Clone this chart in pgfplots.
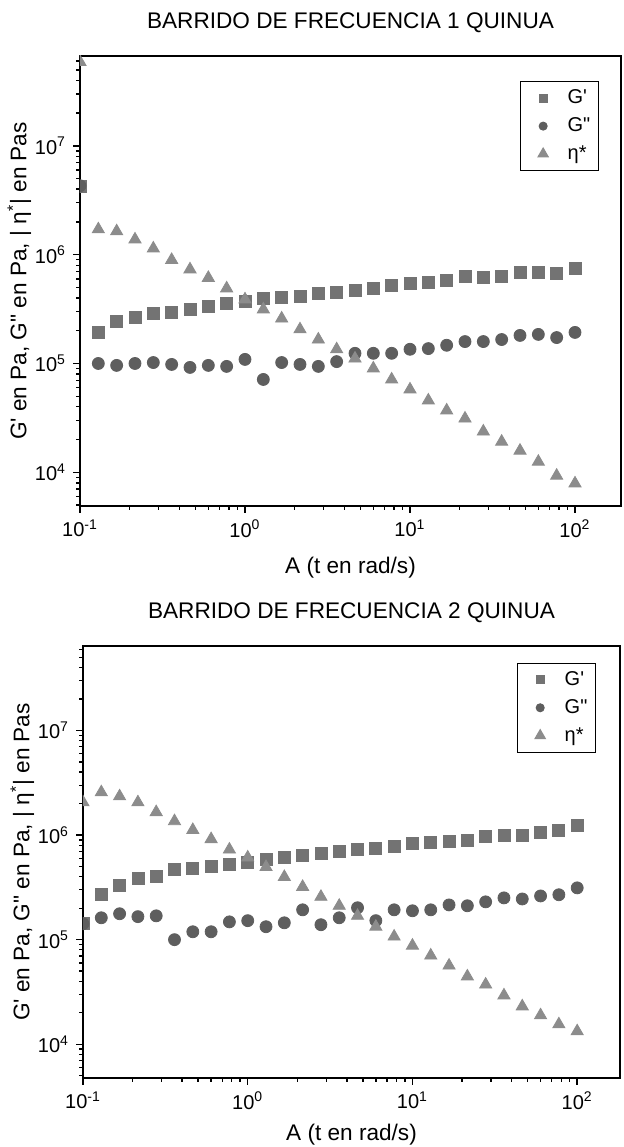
\documentclass[border=0pt]{standalone}
\usepackage{fontspec}
\setmainfont{Liberation Sans}[Ligatures=TeXOff]
\usepackage{pgfplots}
\usepackage{pgfplotstable}
\pgfplotsset{compat=1.18}

\definecolor{cGp}{HTML}{737373}
\definecolor{cGpp}{HTML}{5E5E5E}
\definecolor{cEta}{HTML}{8C8C8C}

% barrido 1: w (rad/s), G', G'', |eta*|
\pgfplotstableread{
w       Gp      Gpp     eta
0.1     4.2e6   4.3e6   5.9e7
0.12915 1.93e5  1.00e5  1.71e6
0.16681 2.43e5  9.6e4   1.64e6
0.21544 2.65e5  1.00e5  1.38e6
0.27826 2.88e5  1.02e5  1.14e6
0.35938 2.94e5  9.8e4   8.95e5
0.46416 3.14e5  9.2e4   7.33e5
0.59948 3.34e5  9.6e4   6.12e5
0.77426 3.56e5  9.4e4   4.90e5
1.0     3.72e5  1.09e5  3.88e5
1.2915  3.96e5  7.13e4  3.14e5
1.6681  4.05e5  1.02e5  2.59e5
2.1544  4.13e5  9.8e4   2.06e5
2.7826  4.41e5  9.4e4   1.66e5
3.5938  4.50e5  1.04e5  1.35e5
4.6416  4.70e5  1.24e5  1.11e5
5.9948  4.90e5  1.24e5  9.0e4
7.7426  5.22e5  1.24e5  7.13e4
10      5.45e5  1.35e5  5.77e4
12.915  5.56e5  1.37e5  4.57e4
16.681  5.81e5  1.47e5  3.70e4
21.544  6.31e5  1.59e5  3.12e4
27.826  6.18e5  1.59e5  2.37e4
35.938  6.31e5  1.66e5  1.91e4
46.416  6.87e5  1.81e5  1.58e4
59.948  6.87e5  1.85e5  1.25e4
77.426  6.73e5  1.73e5  9.3e3
100     7.48e5  1.93e5  7.9e3
}\barridoA

% barrido 2
\pgfplotstableread{
w       Gp      Gpp     eta
0.1     1.42e5  1.42e5  2.06e6
0.12915 2.74e5  1.62e5  2.57e6
0.16681 3.34e5  1.77e5  2.35e6
0.21544 3.89e5  1.66e5  2.06e6
0.27826 4.07e5  1.69e5  1.66e6
0.35938 4.65e5  1.00e5  1.36e6
0.46416 4.85e5  1.19e5  1.12e6
0.59948 5.07e5  1.19e5  9.16e5
0.77426 5.30e5  1.48e5  7.28e5
1.0     5.53e5  1.52e5  6.11e5
1.2915  5.90e5  1.33e5  4.95e5
1.6681  6.17e5  1.45e5  3.98e5
2.1544  6.46e5  1.93e5  3.20e5
2.7826  6.75e5  1.39e5  2.57e5
3.5938  7.05e5  1.62e5  2.11e5
4.6416  7.36e5  2.02e5  1.69e5
5.9948  7.52e5  1.52e5  1.33e5
7.7426  7.85e5  1.93e5  1.07e5
10      8.39e5  1.89e5  8.77e4
12.915  8.57e5  1.93e5  7.05e4
16.681  8.77e5  2.15e5  5.65e4
21.544  8.95e5  2.11e5  4.45e4
27.826  9.77e5  2.30e5  3.72e4
35.938  1.00e6  2.51e5  2.93e4
46.416  1.00e6  2.45e5  2.30e4
59.948  1.07e6  2.62e5  1.89e4
77.426  1.12e6  2.69e5  1.55e4
100     1.24e6  3.13e5  1.33e4
}\barridoB

\pgfplotsset{
  barrido/.style={
    scale only axis,
    anchor=south west,
    clip marker paths=true,
    tick pos=left,
    tick align=outside,
    major tick length=3.5pt,
    minor tick length=2pt,
    axis line style={line width=0.9pt},
    every tick/.style={black, line width=0.7pt},
    xtick={0.1,1,10,100},
    xticklabels={10\textsuperscript{-1},10\textsuperscript{0},10\textsuperscript{1},10\textsuperscript{2}},
    minor xtick={0.2,0.3,0.4,0.5,0.6,0.7,0.8,0.9,2,3,4,5,6,7,8,9,20,30,40,50,60,70,80,90},
    ytick={1e4,1e5,1e6,1e7},
    yticklabels={10\textsuperscript{4},10\textsuperscript{5},10\textsuperscript{6},10\textsuperscript{7}},
    minor ytick={5e3,6e3,7e3,8e3,9e3,2e4,3e4,4e4,5e4,6e4,7e4,8e4,9e4,
      2e5,3e5,4e5,5e5,6e5,7e5,8e5,9e5,2e6,3e6,4e6,5e6,6e6,7e6,8e6,9e6,2e7,3e7,4e7,5e7,6e7},
    title style={font=\fontsize{11.3}{13}\selectfont, yshift=2pt},
    label style={font=\fontsize{11.3}{13}\selectfont},
    tick label style={font=\fontsize{10}{12}\selectfont},
    xlabel={A (t en rad/s)},
    ylabel={G' en Pa, G" en Pa, | η\textsuperscript{*}| en Pas},
    xlabel style={yshift=-3pt},
    ylabel shift=-5pt,
    legend cell align=left,
    legend image code/.code={\path (-9pt,0pt) (10pt,0pt);
      \draw[##1] plot coordinates {(0pt,0pt)};},
    legend style={font=\fontsize{10}{13.5}\selectfont, draw=black, line width=0.5pt,
      anchor=north east, inner xsep=2pt, row sep=1.5pt},
  },
}

\begin{document}
\begin{tikzpicture}
\useasboundingbox (0,0) rectangle (312pt,573.5pt);

\begin{loglogaxis}[barrido,
  at={(40pt,320.5pt)},
  width=270.5pt, height=225pt,
  xmin=0.1, xmax=190,
  ymin=4.9e3, ymax=6.7e7,
  title={BARRIDO DE FRECUENCIA 1 QUINUA},
  legend style={at={(0.959,0.944)}},
]
\addplot[only marks, mark=square*, mark size=3pt, color=cGp,
  legend image post style={mark size=2pt}] table[x=w, y=Gp] {\barridoA};
\addlegendentry{G'}
\addplot[only marks, mark=*, mark size=3pt, color=cGpp,
  legend image post style={mark size=2pt}] table[x=w, y=Gpp] {\barridoA};
\addlegendentry{G"}
\addplot[only marks, mark=triangle*, mark size=3.5pt, color=cEta,
  legend image post style={mark size=3pt}] table[x=w, y=eta] {\barridoA};
\addlegendentry{η*}
\end{loglogaxis}

\begin{loglogaxis}[barrido,
  at={(41.5pt,34.5pt)},
  width=268.5pt, height=216pt,
  xmin=0.1, xmax=182,
  ymin=4.75e3, ymax=6.45e7,
  title={BARRIDO DE FRECUENCIA 2 QUINUA},
  xlabel style={yshift=2.5pt},
  legend style={at={(0.955,0.961)}},
]
\addplot[only marks, mark=square*, mark size=3pt, color=cGp,
  legend image post style={mark size=2pt}] table[x=w, y=Gp] {\barridoB};
\addlegendentry{G'}
\addplot[only marks, mark=*, mark size=3pt, color=cGpp,
  legend image post style={mark size=2pt}] table[x=w, y=Gpp] {\barridoB};
\addlegendentry{G"}
\addplot[only marks, mark=triangle*, mark size=3.5pt, color=cEta,
  legend image post style={mark size=3pt}] table[x=w, y=eta] {\barridoB};
\addlegendentry{η*}
\end{loglogaxis}
\end{tikzpicture}
\end{document}
